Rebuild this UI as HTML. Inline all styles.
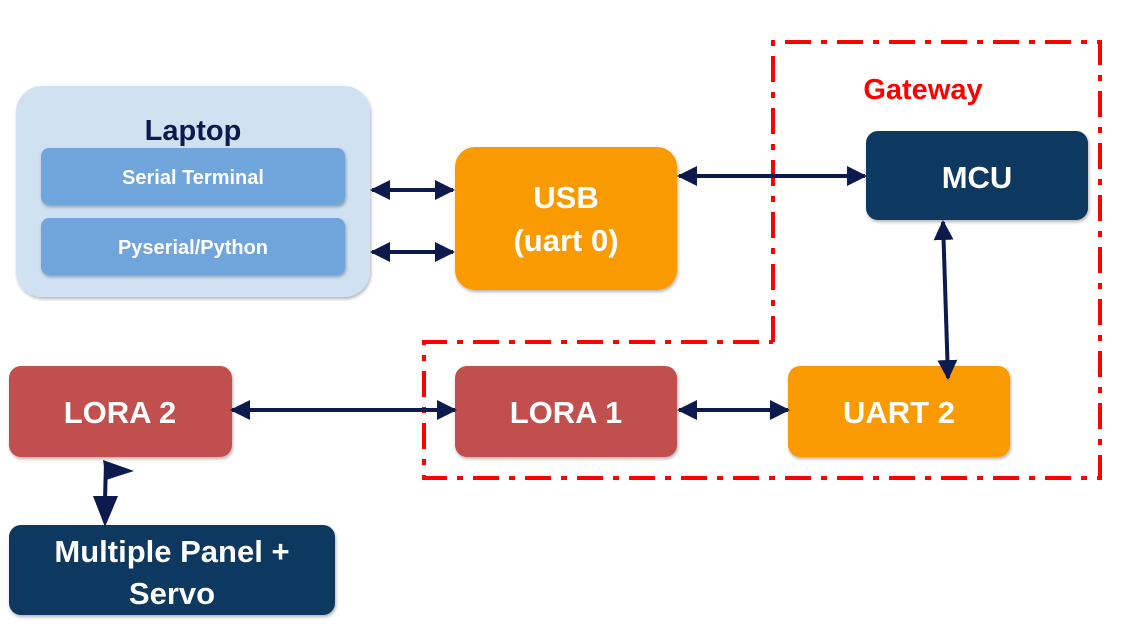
<!DOCTYPE html>
<html><head><style>
body{margin:0;width:1126px;height:634px;background:#fff;overflow:hidden;font-family:"Liberation Sans",sans-serif;}
</style></head><body>
<svg width="1126" height="634" xmlns="http://www.w3.org/2000/svg">
<defs>
<marker id="a" viewBox="0 0 10 10" refX="9" refY="5" markerWidth="5" markerHeight="5" orient="auto-start-reverse"><path d="M0,0L10,5L0,10z" fill="#0c1a4e"/></marker>
<filter id="s" x="-5%" y="-5%" width="110%" height="115%"><feDropShadow dx="1" dy="2" stdDeviation="1.5" flood-opacity="0.3"/></filter>
</defs>
<rect x="16" y="86" width="354" height="211" rx="26" fill="#d0e1f2" filter="url(#s)"/>
<text x="193" y="140" text-anchor="middle" font-size="29" font-weight="bold" fill="#0c1a4e">Laptop</text>
<rect x="41" y="148" width="304" height="57" rx="8" fill="#6fa5dc" filter="url(#s)"/>
<text x="193" y="184" text-anchor="middle" font-size="20" font-weight="bold" fill="#fff">Serial Terminal</text>
<rect x="41" y="218" width="304" height="57" rx="8" fill="#6fa5dc" filter="url(#s)"/>
<text x="193" y="254" text-anchor="middle" font-size="20" font-weight="bold" fill="#fff">Pyserial/Python</text>
<rect x="455" y="147" width="222" height="143" rx="20" fill="#f99a00" filter="url(#s)"/>
<text x="566" y="208" text-anchor="middle" font-size="31" font-weight="bold" fill="#fff">USB</text>
<text x="566" y="251" text-anchor="middle" font-size="31" font-weight="bold" fill="#fff">(uart 0)</text>
<rect x="866" y="131" width="222" height="89" rx="12" fill="#0b3861" filter="url(#s)"/>
<text x="977" y="188" text-anchor="middle" font-size="31" font-weight="bold" fill="#fff">MCU</text>
<rect x="9" y="366" width="223" height="91" rx="12" fill="#c0504d" filter="url(#s)"/>
<text x="120" y="423" text-anchor="middle" font-size="31" font-weight="bold" fill="#fff">LORA 2</text>
<rect x="455" y="366" width="222" height="91" rx="12" fill="#c0504d" filter="url(#s)"/>
<text x="566" y="423" text-anchor="middle" font-size="31" font-weight="bold" fill="#fff">LORA 1</text>
<rect x="788" y="366" width="222" height="91" rx="12" fill="#f99a00" filter="url(#s)"/>
<text x="899" y="423" text-anchor="middle" font-size="31" font-weight="bold" fill="#fff">UART 2</text>
<rect x="9" y="525" width="326" height="90" rx="12" fill="#0b3861" filter="url(#s)"/>
<text x="172" y="562" text-anchor="middle" font-size="31" font-weight="bold" fill="#fff">Multiple Panel +</text>
<text x="172" y="604" text-anchor="middle" font-size="31" font-weight="bold" fill="#fff">Servo</text>
<path d="M773,342V42H1100V478H424V342H773" fill="none" stroke="#f00" stroke-width="4" stroke-dasharray="26,10,6,10"/>
<text x="923" y="99" text-anchor="middle" font-size="29" font-weight="bold" fill="#f00">Gateway</text>
<g stroke="#0c1a4e" stroke-width="4" fill="none" marker-start="url(#a)" marker-end="url(#a)">
<line x1="372" y1="190" x2="453" y2="190"/>
<line x1="372" y1="252" x2="453" y2="252"/>
<line x1="679" y1="176" x2="865" y2="176"/>
<line x1="943" y1="222" x2="948" y2="378"/>
<line x1="232" y1="410" x2="455" y2="410"/>
<line x1="679" y1="410" x2="788" y2="410"/>
</g>
<line x1="106" y1="462" x2="105" y2="500" stroke="#0c1a4e" stroke-width="4"/>
<path d="M93,496L118,496L105,527z" fill="#0c1a4e"/>
<path d="M103,460L134,471L106,480z" fill="#0c1a4e"/>
</svg>
</body></html>
